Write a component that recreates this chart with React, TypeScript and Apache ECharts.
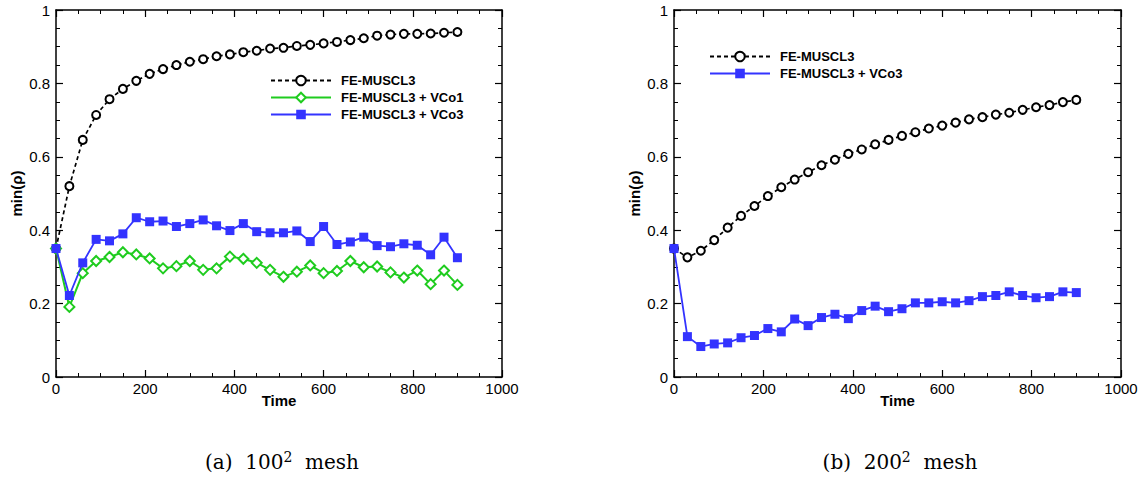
import React, { useEffect, useRef } from "react";
import * as echarts from "echarts";

const times = [0, 30, 60, 90, 120, 150, 180, 210, 240, 270, 300, 330, 360, 390, 420, 450, 480, 510, 540, 570, 600, 630, 660, 690, 720, 750, 780, 810, 840, 870, 900];

const leftBase = [0.35, 0.52, 0.646, 0.714, 0.757, 0.785, 0.807, 0.826, 0.839, 0.85, 0.859, 0.866, 0.874, 0.879, 0.885, 0.889, 0.895, 0.897, 0.902, 0.905, 0.909, 0.913, 0.918, 0.923, 0.93, 0.933, 0.935, 0.935, 0.936, 0.938, 0.94];
const leftVCo1 = [0.35, 0.191, 0.283, 0.316, 0.327, 0.34, 0.334, 0.323, 0.296, 0.302, 0.316, 0.292, 0.296, 0.328, 0.322, 0.311, 0.292, 0.273, 0.287, 0.304, 0.283, 0.289, 0.316, 0.299, 0.301, 0.285, 0.271, 0.29, 0.253, 0.29, 0.251];
const leftVCo3 = [0.35, 0.222, 0.311, 0.375, 0.371, 0.39, 0.434, 0.423, 0.425, 0.41, 0.418, 0.428, 0.412, 0.399, 0.418, 0.396, 0.393, 0.393, 0.398, 0.369, 0.41, 0.361, 0.368, 0.381, 0.358, 0.355, 0.363, 0.359, 0.333, 0.381, 0.325];

const rightBase = [0.35, 0.326, 0.344, 0.373, 0.407, 0.439, 0.466, 0.493, 0.517, 0.538, 0.558, 0.577, 0.592, 0.608, 0.62, 0.634, 0.646, 0.657, 0.667, 0.677, 0.685, 0.693, 0.702, 0.708, 0.715, 0.72, 0.728, 0.735, 0.741, 0.749, 0.755];
const rightVCo3 = [0.35, 0.11, 0.083, 0.09, 0.093, 0.107, 0.113, 0.132, 0.123, 0.158, 0.14, 0.162, 0.171, 0.159, 0.181, 0.193, 0.178, 0.186, 0.202, 0.202, 0.205, 0.202, 0.208, 0.219, 0.222, 0.232, 0.222, 0.216, 0.219, 0.232, 0.23];

const seriesNames = ["FE-MUSCL3", "FE-MUSCL3 + VCo1", "FE-MUSCL3 + VCo3"];
const captions = ["(a)  100", "(b)  200"];
const xName = "Time";
const yName = "min(ρ)";

const FONT = "Liberation Sans";
const BLUE = "#3333ff";
const GREEN = "#1fcc1f";

const pair = (ys: number[]) => times.map((t, i) => [t, ys[i]]);

function xAxes(gridIndex: number) {
  const base: any = {
    gridIndex,
    type: "value",
    min: 0,
    max: 1000,
    interval: 200,
    axisLine: { show: true, onZero: false, lineStyle: { color: "#000", width: 1.5 } },
    axisTick: { show: true, inside: true, length: 7, lineStyle: { color: "#000", width: 1.2 } },
    minorTick: { show: true, splitNumber: 4, length: 4, lineStyle: { color: "#000", width: 1 } },
    splitLine: { show: false },
  };
  return [
    {
      ...base,
      position: "bottom",
      axisLabel: { show: true, color: "#000", fontSize: 15, fontFamily: FONT, margin: 4, formatter: (v: number) => String(v) },
      name: xName,
      nameLocation: "middle",
      nameGap: 16,
      nameMoveOverlap: false,
      nameTextStyle: { color: "#000", fontSize: 15, fontWeight: "bold", fontFamily: FONT },
    },
    { ...base, position: "top", axisLabel: { show: false } },
  ];
}

function yAxes(gridIndex: number) {
  const base: any = {
    gridIndex,
    type: "value",
    min: 0,
    max: 1,
    interval: 0.2,
    axisLine: { show: true, onZero: false, lineStyle: { color: "#000", width: 1.5 } },
    axisTick: { show: true, inside: true, length: 7, lineStyle: { color: "#000", width: 1.2 } },
    minorTick: { show: true, splitNumber: 4, length: 4, lineStyle: { color: "#000", width: 1 } },
    splitLine: { show: false },
  };
  return [
    {
      ...base,
      position: "left",
      axisLabel: { show: true, color: "#000", fontSize: 15, fontFamily: FONT, margin: 6, formatter: (v: number) => String(v) },
      name: yName,
      nameLocation: "middle",
      nameGap: 32,
      nameMoveOverlap: false,
      nameTextStyle: { color: "#000", fontSize: 15, fontWeight: "bold", fontFamily: FONT },
    },
    { ...base, position: "right", axisLabel: { show: false } },
  ];
}

function baseSeries(xi: number, yi: number, ys: number[]) {
  return {
    name: seriesNames[0],
    type: "line",
    xAxisIndex: xi,
    yAxisIndex: yi,
    data: pair(ys),
    symbol: "circle",
    symbolSize: 8,
    itemStyle: { color: "#fff", borderColor: "#000", borderWidth: 2 },
    lineStyle: { color: "#000", width: 1.7, type: [4, 3] },
    z: 2,
  };
}

function vco1Series(xi: number, yi: number, ys: number[]) {
  return {
    name: seriesNames[1],
    type: "line",
    xAxisIndex: xi,
    yAxisIndex: yi,
    data: pair(ys),
    symbol: "diamond",
    symbolSize: 10,
    itemStyle: { color: "#fff", borderColor: GREEN, borderWidth: 2 },
    lineStyle: { color: GREEN, width: 2 },
    z: 3,
  };
}

function vco3Series(xi: number, yi: number, ys: number[]) {
  return {
    name: seriesNames[2],
    type: "line",
    xAxisIndex: xi,
    yAxisIndex: yi,
    data: pair(ys),
    symbol: "rect",
    symbolSize: 9,
    itemStyle: { color: BLUE, borderWidth: 0 },
    lineStyle: { color: BLUE, width: 1.8 },
    z: 4,
  };
}

const legendText = { color: "#000", fontSize: 13, fontWeight: "bold", fontFamily: FONT, padding: [0, 0, 0, 5] };

const captionRich = {
  m: { fontFamily: "DejaVu Serif", fontSize: 20, color: "#111" },
  s: { fontFamily: "DejaVu Serif", fontSize: 14, color: "#111", verticalAlign: "top", padding: [0, 0, 10, 0] },
};

export default function App() {
  const ref = useRef<HTMLDivElement>(null);
  useEffect(() => {
    if (!ref.current) return;
    const chart = echarts.init(ref.current, undefined, { renderer: "svg" });
    const option: any = {
      animation: false,
      backgroundColor: "#fff",
      grid: [
        { left: 56, top: 10, width: 446, height: 367 },
        { left: 674, top: 10, width: 447, height: 367 },
      ],
      xAxis: [...xAxes(0), ...xAxes(1)],
      yAxis: [...yAxes(0), ...yAxes(1)],
      legend: [
        {
          data: [seriesNames[0], seriesNames[1], seriesNames[2]],
          orient: "vertical",
          left: 270,
          top: 74,
          padding: 0,
          itemWidth: 60,
          itemHeight: 12,
          itemGap: 4,
          selectedMode: false,
          textStyle: legendText,
        },
        {
          data: [seriesNames[0], seriesNames[2]],
          orient: "vertical",
          left: 709,
          top: 50,
          padding: 0,
          itemWidth: 60,
          itemHeight: 12,
          itemGap: 4,
          selectedMode: false,
          textStyle: legendText,
        },
      ],
      series: [
        baseSeries(0, 0, leftBase),
        vco1Series(0, 0, leftVCo1),
        vco3Series(0, 0, leftVCo3),
        baseSeries(2, 2, rightBase),
        vco3Series(2, 2, rightVCo3),
      ],
      graphic: [
        {
          type: "text",
          x: 282,
          y: 462,
          style: {
            text: "{m|" + captions[0] + "}{s|2}{m|  mesh}",
            align: "center",
            verticalAlign: "middle",
            rich: captionRich,
          },
        },
        {
          type: "text",
          x: 900,
          y: 462,
          style: {
            text: "{m|" + captions[1] + "}{s|2}{m|  mesh}",
            align: "center",
            verticalAlign: "middle",
            rich: captionRich,
          },
        },
      ],
    };
    chart.setOption(option);
    return () => chart.dispose();
  }, []);
  return <div ref={ref} style={{ position: "absolute", left: 0, top: 0, width: 1142, height: 478 }} />;
}
